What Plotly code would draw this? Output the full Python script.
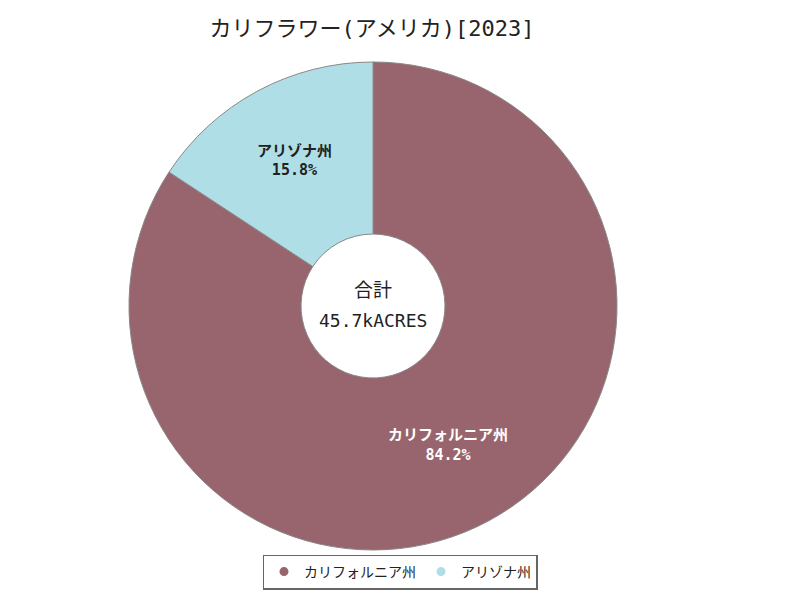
import plotly.graph_objects as go

labels = ["カリフォルニア州", "アリゾナ州"]
values = [38.5, 7.2]
colors = ["#98646E", "#B0DEE6"]
text_colors = ["#FFFFFF", "#222222"]
title_text = "カリフラワー(アメリカ)[2023]"
center_lines = ["合計", "45.7kACRES"]

FONT = "DejaVu Sans Mono, Noto Sans CJK JP"
OFF = 8  # page body margin offset in px

W, H = 800, 600
cx, cy, R = 373 - OFF, 306 - OFF, 244

fig = go.Figure()
fig.add_trace(go.Pie(
    labels=labels,
    values=values,
    hole=0.295,
    sort=False,
    direction="clockwise",
    rotation=0,
    marker=dict(colors=colors, line=dict(color="#888888", width=1)),
    texttemplate="<b>%{label}</b><br><b>%{percent:.1%}</b>",
    textposition="inside",
    insidetextorientation="horizontal",
    insidetextfont=dict(color=text_colors, size=15, family=FONT),
    domain=dict(x=[(cx - R) / W, (cx + R) / W], y=[(H - cy - R) / H, (H - cy + R) / H]),
    showlegend=False,
))

# legend entries with round markers
for lab, col in zip(labels, colors):
    fig.add_trace(go.Scatter(x=[None], y=[None], mode="markers", name=lab,
                             marker=dict(symbol="circle", size=9, color=col)))

fig.update_xaxes(visible=False)
fig.update_yaxes(visible=False)

fig.update_layout(
    width=W, height=H,
    margin=dict(l=0, r=0, t=0, b=0, autoexpand=False),
    paper_bgcolor="white",
    plot_bgcolor="white",
    font=dict(family=FONT, color="#222222"),
    title=dict(text=title_text, x=(372 - OFF) / W, xanchor="center", y=1 - (28 - OFF) / H, yanchor="middle",
               font=dict(size=22, family=FONT, color="#222222")),
    legend=dict(orientation="h", x=(400 - OFF) / W, xanchor="center", y=1 - (572 - OFF) / H, yanchor="middle",
                bordercolor="#666666", borderwidth=1.5, font=dict(size=14, family=FONT),
                itemwidth=30),
    annotations=[
        dict(text=center_lines[0], x=cx / W, y=1 - (290 - OFF) / H,
             xref="paper", yref="paper", showarrow=False, yanchor="middle",
             font=dict(size=19, family=FONT, color="#222222")),
        dict(text=center_lines[1], x=cx / W, y=1 - (321 - OFF) / H,
             xref="paper", yref="paper", showarrow=False, yanchor="middle",
             font=dict(size=18, family=FONT, color="#222222")),
    ],
)

fig.write_html("out.html")
